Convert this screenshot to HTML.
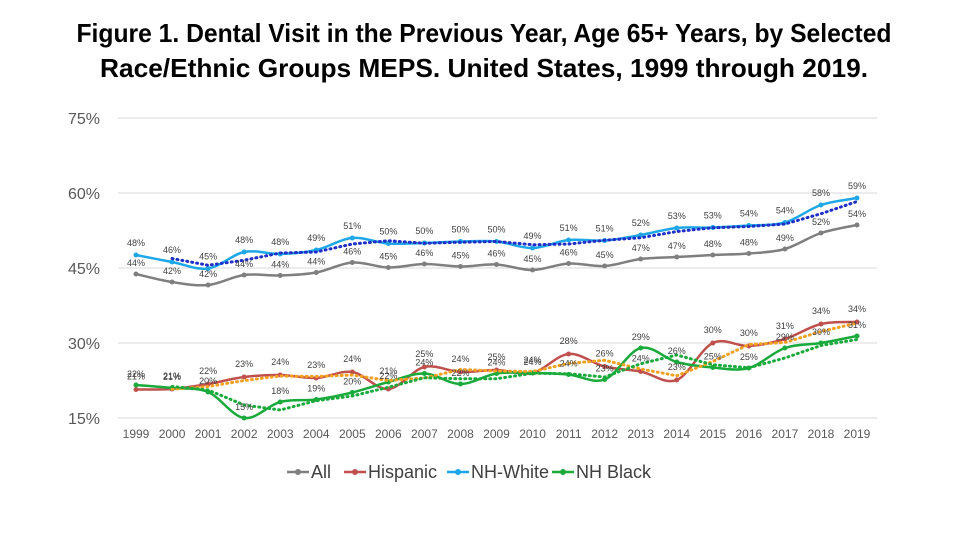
<!DOCTYPE html>
<html><head><meta charset="utf-8"><style>
html,body{margin:0;padding:0;background:#fff;}
svg{display:block;font-family:"Liberation Sans",Arial,sans-serif;}
</style></head><body>
<svg id="chart" width="969" height="540" viewBox="0 0 969 540">
<text x="484" y="42" text-anchor="middle" font-size="26" font-weight="bold" fill="#000" textLength="815" lengthAdjust="spacingAndGlyphs">Figure 1. Dental Visit in the Previous Year, Age 65+ Years, by Selected</text>
<text x="484" y="77" text-anchor="middle" font-size="26" font-weight="bold" fill="#000" textLength="768" lengthAdjust="spacingAndGlyphs">Race/Ethnic Groups MEPS. United States, 1999 through 2019.</text>
<g id="grid"></g><g id="axes"></g><g id="series"></g><g id="labels"></g><g id="legend"></g>
</svg>
<script>
const years=[1999,2000,2001,2002,2003,2004,2005,2006,2007,2008,2009,2010,2011,2012,2013,2014,2015,2016,2017,2018,2019];
const yTicks=[15,30,45,60,75];
const allVals=[43.8,42.2,41.6,43.6,43.5,44.1,46.1,45.1,45.8,45.3,45.7,44.6,45.9,45.4,46.8,47.2,47.6,47.9,48.8,52.0,53.6];
const whiteVals=[47.6,46.2,44.9,48.2,47.8,48.6,51.0,49.9,50.0,50.3,50.3,49.0,50.6,50.5,51.6,53.0,53.1,53.5,54.1,57.6,59.0];
const hispVals=[20.7,20.8,21.8,23.2,23.6,23.0,24.2,20.8,25.2,24.2,24.6,24.0,27.8,25.3,24.3,22.6,30.0,29.4,30.8,33.8,34.2];
const blackVals=[21.6,21.0,20.2,15.0,18.2,18.7,20.1,22.2,23.9,21.8,23.9,24.0,23.7,22.7,29.0,26.2,25.1,25.0,29.0,30.0,31.4];
const allLbl=["44%","42%","42%","44%","44%","44%","46%","45%","46%","45%","46%","45%","46%","45%","47%","47%","48%","48%","49%","52%","54%"];
const whiteLbl=["48%","46%","45%","48%","48%","49%","51%","50%","50%","50%","50%","49%","51%","51%","52%","53%","53%","54%","54%","58%","59%"];
const hispLbl=["21%","21%","22%","23%","24%","23%","24%","22%","25%","24%","25%","24%","28%","26%","24%","23%","30%","30%","31%","34%","34%"];
const blackLbl=["22%","21%","20%","15%","18%","19%","20%","21%","24%","22%","24%","24%","24%","23%","29%","26%","25%","25%","29%","30%","31%"];
const NS="http://www.w3.org/2000/svg";
const X=i=>136+i*(857-136)/20;
const Y=v=>418-(v-15)*5;
function el(t,a,p){const e=document.createElementNS(NS,t);for(const k in a)e.setAttribute(k,a[k]);document.getElementById(p).appendChild(e);return e;}
yTicks.forEach(t=>{
 const g=el('line',{x1:118,x2:877,y1:Y(t),y2:Y(t),stroke:'#d9d9d9','stroke-width':1},'grid');
 
 
 const l=el('text',{x:100,y:Y(t)+6,'text-anchor':'end','font-size':16,fill:'#595959'},'axes');l.textContent=t+'%';
 
 
});
years.forEach((y,i)=>{
 const l=el('text',{x:X(i),y:438,'text-anchor':'middle','font-size':12,fill:'#595959'},'axes');l.textContent=y;
 
 
});
function smooth(pts){let d='M'+pts[0][0]+','+pts[0][1];for(let i=0;i<pts.length-1;i++){const p0=pts[i-1]||pts[i],p1=pts[i],p2=pts[i+1],p3=pts[i+2]||p2;
 d+=' C'+(p1[0]+(p2[0]-p0[0])/6)+','+(p1[1]+(p2[1]-p0[1])/6)+' '+(p2[0]-(p3[0]-p1[0])/6)+','+(p2[1]-(p3[1]-p1[1])/6)+' '+p2[0]+','+p2[1];}return d;}
function trend(vals,color,name){const pts=[];for(let i=1;i<vals.length;i++)pts.push([X(i),Y((vals[i]+vals[i-1])/2)]);
 const p=el('path',{d:'M'+pts.map(p=>p.join(',')).join(' L'),fill:'none',stroke:color,'stroke-width':3,'stroke-dasharray':'1 4','stroke-linecap':'round'},'series');
 
 }
function series(vals,color,name){const pts=vals.map((v,i)=>[X(i),Y(v)]);
 const p=el('path',{d:smooth(pts),fill:'none',stroke:color,'stroke-width':2.5},'series');
 
 
 pts.forEach((q,i)=>{const c=el('circle',{cx:q[0],cy:q[1],r:2.5,fill:color},'series');
  
  });}
function labels(vals,lbls,dy,name){vals.forEach((v,i)=>{const t=el('text',{x:X(i),y:Y(v)+dy,'text-anchor':'middle','font-size':9,fill:'#404040'},'labels');t.textContent=lbls[i];
 
 });}
series(allVals,'#7f7f7f','all');
series(whiteVals,'#1ea7e8','nh-white');
series(hispVals,'#c0504d','hispanic');
series(blackVals,'#1aaa3c','nh-black');
trend(whiteVals,'#1f2fc8','nh-white-trend');
trend(hispVals,'#f4a020','hispanic-trend');
trend(blackVals,'#1aaa3c','nh-black-trend');
labels(allVals,allLbl,-8,'all');
labels(whiteVals,whiteLbl,-9,'nh-white');
labels(hispVals,hispLbl,-10,'hispanic');
labels(blackVals,blackLbl,-8,'nh-black');
const legNames=['All','Hispanic','NH-White','NH Black'];
const legColors=['#7f7f7f','#c0504d','#1ea7e8','#1aaa3c'];
const legX=[287,344,447,552];
legNames.forEach((n,i)=>{const g=el('g',{},'legend');
 
 
 const l=document.createElementNS(NS,'line');l.setAttribute('x1',legX[i]);l.setAttribute('x2',legX[i]+22);l.setAttribute('y1',472);l.setAttribute('y2',472);l.setAttribute('stroke',legColors[i]);l.setAttribute('stroke-width',2.5);g.appendChild(l);
 const c=document.createElementNS(NS,'circle');c.setAttribute('cx',legX[i]+11);c.setAttribute('cy',472);c.setAttribute('r',3);c.setAttribute('fill',legColors[i]);g.appendChild(c);
 const t=document.createElementNS(NS,'text');t.setAttribute('x',legX[i]+24);t.setAttribute('y',478);t.setAttribute('font-size',18);t.setAttribute('fill','#404040');t.textContent=n;g.appendChild(t);});
</script>
</body></html>
